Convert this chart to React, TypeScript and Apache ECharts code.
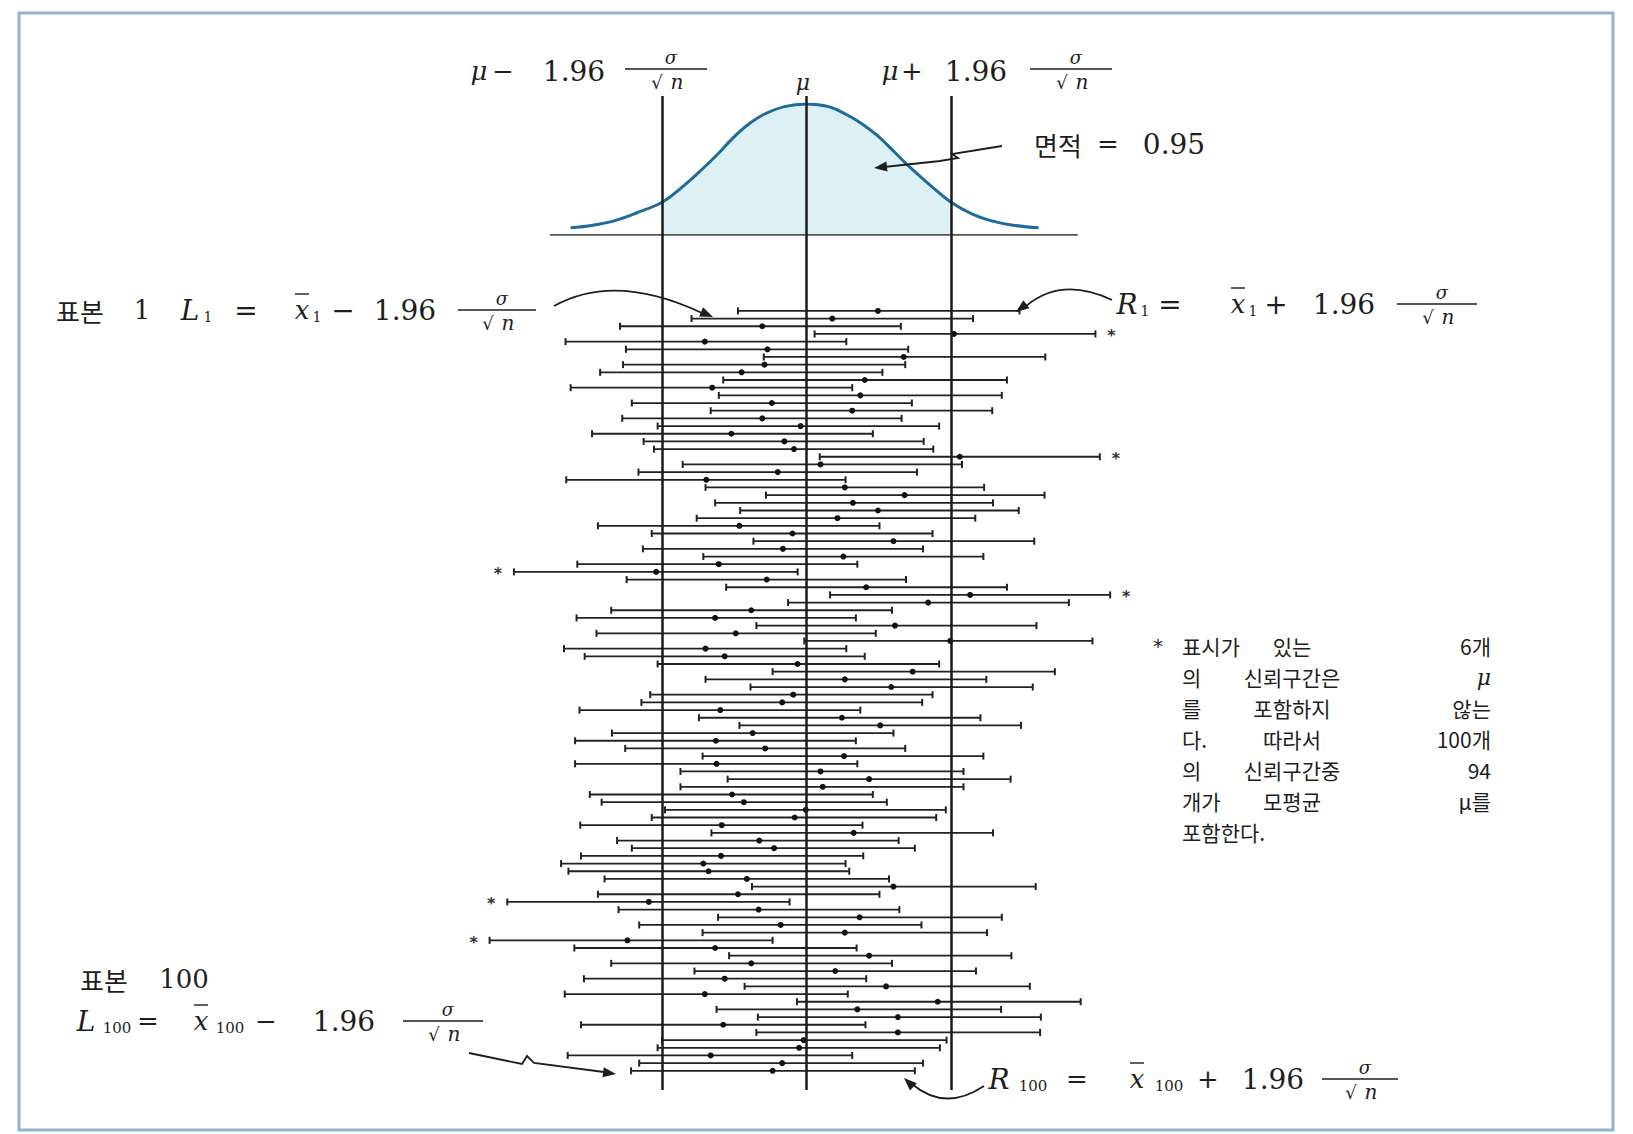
import React, { useEffect, useRef } from "react";
import * as echarts from "echarts";

// Interval data in units of sigma/sqrt(n), mu = 0 (sample 1 at top ... sample 100 at bottom)
const LOWER = [
  -0.93, -1.56, -2.53, 0.11, -3.27, -2.45, -0.58, -2.49, -2.8, -1.13,
  -3.2, -1.19, -2.37, -1.3, -2.5, -2.02, -2.91, -2.21, -2.07, 0.18,
  -1.68, -2.28, -3.26, -1.37, -0.55, -1.24, -0.9, -1.49, -2.83, -2.1,
  -0.72, -2.22, -1.4, -3.11, -3.97, -2.44, -1.09, 0.32, -0.25, -2.65,
  -3.12, -0.68, -2.85, -0.03, -3.29, -3.01, -2.02, -0.46, -1.37, -0.76,
  -2.12, -2.24, -3.08, -1.46, -0.91, -2.64, -3.14, -2.46, -1.41, -3.14,
  -1.71, -1.07, -1.71, -2.94, -2.78, -1.92, -2.1, -3.07, -1.29, -2.57,
  -2.37, -3.06, -3.33, -3.23, -2.74, -0.74, -2.83, -4.06, -2.55, -1.2,
  -2.27, -1.41, -4.3, -3.15, -1.05, -2.65, -1.52, -3.02, -0.84, -3.28,
  -0.13, -1.22, -0.66, -3.06, -0.68, -1.96, -2.02, -3.24, -2.27, -2.38,
];
const MEAN = [
  0.97, 0.35, -0.6, 2.0, -1.38, -0.53, 1.32, -0.57, -0.88, 0.79,
  -1.28, 0.73, -0.47, 0.62, -0.6, -0.08, -1.02, -0.3, -0.17, 2.08,
  0.19, -0.39, -1.36, 0.52, 1.33, 0.63, 0.97, 0.42, -0.91, -0.19,
  1.18, -0.32, 0.5, -1.19, -2.04, -0.54, 0.81, 2.22, 1.65, -0.75,
  -1.24, 1.2, -0.96, 1.95, -1.37, -1.11, -0.12, 1.44, 0.52, 1.15,
  -0.18, -0.33, -1.17, 0.48, 1.0, -0.73, -1.23, -0.56, 0.51, -1.22,
  0.19, 0.85, 0.22, -1.01, -0.85, -0.01, -0.16, -1.15, 0.64, -0.64,
  -0.44, -1.16, -1.4, -1.33, -0.81, 1.18, -0.93, -2.14, -0.65, 0.72,
  -0.35, 0.52, -2.43, -1.24, 0.85, -0.75, 0.39, -1.11, 1.08, -1.38,
  1.78, 0.69, 1.24, -1.13, 1.24, -0.04, -0.1, -1.3, -0.33, -0.46,
];
const UPPER = [
  2.89, 2.26, 1.28, 3.92, 0.54, 1.38, 3.24, 1.34, 1.03, 2.72,
  0.62, 2.65, 1.43, 2.52, 1.29, 1.8, 0.9, 1.59, 1.72, 3.98,
  2.11, 1.5, 0.53, 2.41, 3.23, 2.53, 2.88, 2.29, 0.99, 1.71,
  3.09, 1.58, 2.4, 0.69, -0.12, 1.35, 2.72, 4.12, 3.56, 1.16,
  0.67, 3.12, 0.94, 3.88, 0.54, 0.79, 1.8, 3.37, 2.44, 3.07,
  1.71, 1.57, 0.73, 2.36, 2.91, 1.18, 0.67, 1.34, 2.4, 0.69,
  2.13, 2.77, 2.13, 0.9, 1.09, 1.89, 1.76, 0.76, 2.53, 1.25,
  1.47, 0.77, 0.53, 0.58, 1.12, 3.11, 0.99, -0.23, 1.26, 2.65,
  1.56, 2.45, -0.46, 0.68, 2.78, 1.16, 2.3, 0.81, 3.03, 0.56,
  3.72, 2.64, 3.18, 0.8, 3.17, 1.9, 1.81, 0.62, 1.58, 1.47,
];
const MISSES = [4, 20, 35, 38, 78, 83];
const LIMITS = [-1.96, 0, 1.96];

// Normal curve (relative height)
const CURVE_X = [-3.2, -2.9, -2.6, -2.3, -1.96, -1.7, -1.42, -1.2, -1.0, -0.8, -0.58, -0.3, 0, 0.3, 0.54, 0.75, 0.96, 1.2, 1.38, 1.7, 1.96, 2.25, 2.5, 2.8, 3.15];
const CURVE_H = [0.055, 0.075, 0.11, 0.17, 0.25, 0.36, 0.5, 0.62, 0.74, 0.84, 0.92, 0.98, 1, 0.98, 0.92, 0.85, 0.76, 0.63, 0.53, 0.37, 0.25, 0.16, 0.11, 0.075, 0.055];
const BASELINE = [-3.48, 3.68];

const NOTE = [
  ["표시가", "있는", "6개"],
  ["의", "신뢰구간은", "μ"],
  ["를", "포함하지", "않는"],
  ["다.", "따라서", "100개"],
  ["의", "신뢰구간중", "94"],
  ["개가", "모평균", "μ를"],
  ["포함한다."],
];

const SERIF = '"DejaVu Serif","Liberation Serif",serif';
const KR = '"Noto Sans CJK KR","Noto Sans CJK SC",sans-serif';
const INK = "#1e1e1e";

function T(x: number, y: number, text: string, size: number, o: any = {}) {
  const align = o.align || "center";
  return {
    type: "text",
    x,
    y,
    z: 50,
    style: {
      text,
      font: `${o.italic ? "italic " : ""}${size}px ${o.family || SERIF}`,
      fill: o.color || INK,
      textAlign: align,
      align,
      textVerticalAlign: "middle",
      verticalAlign: "middle",
      lineHeight: o.lh || size,
    },
  };
}
function L(x1: number, y1: number, x2: number, y2: number, w = 1.5) {
  return { type: "line", z: 50, shape: { x1, y1, x2, y2 }, style: { stroke: INK, lineWidth: w } };
}
function frac(cx: number, y: number, w: number) {
  return [
    T(cx + 5, y - 12, "σ", 18, { italic: true }),
    L(cx - w / 2, y, cx + w / 2, y, 1.6),
    T(cx - 9, y + 13, "√", 18),
    T(cx + 11, y + 13, "n", 20, { italic: true }),
  ];
}
function xbar(cx: number, y: number) {
  return [T(cx, y, "x", 26, { italic: true }), L(cx - 7, y - 16, cx + 7, y - 16, 1.4)];
}
function arrowHead(tx: number, ty: number, fx: number, fy: number, len = 13, half = 5) {
  const dx = tx - fx, dy = ty - fy, d = Math.hypot(dx, dy);
  const ux = dx / d, uy = dy / d;
  const bx = tx - ux * len, by = ty - uy * len;
  return {
    type: "polygon",
    z: 50,
    shape: { points: [[tx, ty], [bx - uy * half, by + ux * half], [bx + uy * half, by - ux * half]] },
    style: { fill: INK },
  };
}

function buildGraphic() {
  const g: any[] = [];
  // frame
  g.push({ type: "rect", z: 0, shape: { x: 19, y: 13, width: 1594, height: 1117 }, style: { fill: "#ffffff", stroke: "#8fb6cc", lineWidth: 3 } });

  // top labels
  g.push(T(479, 71, "μ", 26, { italic: true }), T(503, 71, "−", 26), T(574, 71, "1.96", 28), ...frac(666, 69, 82));
  g.push(T(803, 82, "μ", 22, { italic: true }));
  g.push(T(890, 71, "μ", 26, { italic: true }), T(912, 71, "+", 26), T(976, 71, "1.96", 28), ...frac(1071, 69, 82));

  // area label
  g.push(T(1058, 144, "면적", 26, { family: KR }), T(1108, 144, "=", 26), T(1174, 144, "0.95", 28));
  g.push({
    type: "polyline",
    z: 50,
    shape: { points: [[1002, 146], [952, 154], [958, 158], [940, 161], [884, 167]] },
    style: { stroke: INK, lineWidth: 1.8, fill: null },
  });
  g.push(arrowHead(874, 168, 900, 165));

  // sample 1 left
  g.push(T(80, 310, "표본", 26, { family: KR }), T(142, 310, "1", 26));
  g.push(T(190, 310, "L", 28, { italic: true }), T(208, 317, "1", 14), T(246, 310, "=", 28));
  g.push(...xbar(302, 310), T(317, 317, "1", 14), T(343, 310, "−", 28), T(405, 310, "1.96", 28), ...frac(497, 310, 78));
  g.push({ type: "bezierCurve", z: 50, shape: { x1: 554, y1: 306, cpx1: 615, cpy1: 272, x2: 702, y2: 313 }, style: { stroke: INK, lineWidth: 1.8, fill: null } });
  g.push(arrowHead(713, 317, 660, 294));

  // sample 1 right
  g.push(T(1127, 304, "R", 28, { italic: true }), T(1145, 311, "1", 14), T(1170, 304, "=", 28));
  g.push(...xbar(1238, 304), T(1253, 311, "1", 14), T(1276, 304, "+", 28), T(1344, 304, "1.96", 28), ...frac(1437, 304, 80));
  g.push({ type: "bezierCurve", z: 50, shape: { x1: 1112, y1: 300, cpx1: 1062, cpy1: 276, x2: 1026, y2: 306 }, style: { stroke: INK, lineWidth: 1.8, fill: null } });
  g.push(arrowHead(1016, 312, 1045, 290));

  // sample 100 left
  g.push(T(104, 979, "표본", 26, { family: KR }), T(184, 979, "100", 26));
  g.push(T(86, 1021, "L", 28, { italic: true }), T(117, 1028, "100", 15), T(148, 1021, "=", 26));
  g.push(...xbar(201, 1021), T(230, 1028, "100", 15), T(266, 1021, "−", 26), T(344, 1021, "1.96", 28), ...frac(443, 1021, 80));
  g.push({
    type: "polyline",
    z: 50,
    shape: { points: [[469, 1053], [522, 1064], [527, 1056], [534, 1063], [604, 1072]] },
    style: { stroke: INK, lineWidth: 1.8, fill: null },
  });
  g.push(arrowHead(616, 1074, 570, 1068));

  // sample 100 right
  g.push(T(999, 1079, "R", 28, { italic: true }), T(1033, 1086, "100", 15), T(1077, 1079, "=", 26));
  g.push(...xbar(1137, 1079), T(1169, 1086, "100", 15), T(1208, 1079, "+", 26), T(1273, 1079, "1.96", 28), ...frac(1360, 1079, 76));
  g.push({ type: "bezierCurve", z: 50, shape: { x1: 984, y1: 1086, cpx1: 945, cpy1: 1112, x2: 912, y2: 1084 }, style: { stroke: INK, lineWidth: 1.8, fill: null } });
  g.push(arrowHead(904, 1078, 925, 1098));

  // note block
  const left = 1182, right = 1491, mid = 1292;
  const ys = [646, 677, 708, 739, 770, 801, 832];
  g.push(T(1158, 646, "*", 20, { family: '"DejaVu Sans",sans-serif' }));
  NOTE.forEach((words, i) => {
    const y = ys[i];
    const o = { family: KR, lh: 21 };
    g.push(T(left, y, words[0], 21, { ...o, align: "left" }));
    if (words.length === 1) return;
    g.push(T(mid, y, words[1], 21, { ...o, align: "center" }));
    const last = words[2];
    if (last === "μ") g.push(T(right, y, last, 22, { italic: true, align: "right", lh: 22 }));
    else g.push(T(right, y, last, 21, { ...o, align: "right" }));
  });
  return g;
}

export default function App() {
  const ref = useRef<HTMLDivElement>(null);
  useEffect(() => {
    if (!ref.current) return;
    const chart = echarts.init(ref.current, null, { renderer: "svg" });
    const curve = CURVE_X.map((x, i) => [x, CURVE_H[i]]);
    const shaded = curve.filter((p) => p[0] >= LIMITS[0] && p[0] <= LIMITS[2]);
    const rows = LOWER.map((lo, i) => [i + 1, lo, MEAN[i], UPPER[i], MISSES.includes(i + 1) ? 1 : 0]);

    const option: any = {
      animation: false,
      backgroundColor: "#ffffff",
      grid: [
        { left: 438, width: 737, top: 104, height: 131 },
        { left: 438, width: 737, top: 96, height: 994 },
      ],
      xAxis: [
        { gridIndex: 0, type: "value", min: -5, max: 5, show: false },
        { gridIndex: 1, type: "value", min: -5, max: 5, show: false },
      ],
      yAxis: [
        { gridIndex: 0, type: "value", min: 0, max: 1, show: false },
        { gridIndex: 1, type: "value", min: -27, max: 102.5, inverse: true, show: false },
      ],
      series: [
        {
          type: "line", xAxisIndex: 0, yAxisIndex: 0, data: shaded, smooth: 0.4, symbol: "none",
          lineStyle: { width: 0 }, areaStyle: { color: "#dcf0f6", opacity: 1 }, z: 1, silent: true,
        },
        {
          type: "line", xAxisIndex: 0, yAxisIndex: 0, data: curve, smooth: 0.4, symbol: "none",
          lineStyle: { color: "#1f6b99", width: 3 }, z: 3, silent: true,
        },
        {
          type: "line", xAxisIndex: 0, yAxisIndex: 0, data: BASELINE.map((x) => [x, 0]), symbol: "none",
          lineStyle: { color: INK, width: 1.5 }, z: 3, silent: true,
        },
        {
          type: "custom", xAxisIndex: 1, yAxisIndex: 1, data: rows, z: 4, silent: true,
          encode: { x: [1, 2, 3], y: 0 },
          renderItem: (params: any, api: any) => {
            const row = api.value(0);
            const a = api.coord([api.value(1), row]);
            const m = api.coord([api.value(2), row]);
            const b = api.coord([api.value(3), row]);
            const miss = api.value(4) === 1;
            const stroke = "#222";
            const children: any[] = [
              { type: "line", shape: { x1: a[0], y1: a[1], x2: b[0], y2: b[1] }, style: { stroke, lineWidth: 1.8 } },
              { type: "line", shape: { x1: a[0], y1: a[1] - 3.5, x2: a[0], y2: a[1] + 3.5 }, style: { stroke, lineWidth: 2 } },
              { type: "line", shape: { x1: b[0], y1: b[1] - 3.5, x2: b[0], y2: b[1] + 3.5 }, style: { stroke, lineWidth: 2 } },
              { type: "circle", shape: { cx: m[0], cy: m[1], r: 3 }, style: { fill: "#111" } },
            ];
            if (miss) {
              const right = api.value(2) > 0;
              children.push({
                type: "text",
                x: right ? b[0] + 16 : a[0] - 16,
                y: a[1] + 2,
                style: {
                  text: "*", font: 'bold 16px "DejaVu Sans",sans-serif', fill: "#333",
                  textAlign: "center", align: "center", textVerticalAlign: "middle", verticalAlign: "middle",
                },
              });
            }
            return { type: "group", children };
          },
          markLine: {
            silent: true,
            symbol: ["none", "none"],
            label: { show: false },
            lineStyle: { color: "#1a1a1a", width: 2.5, type: "solid" },
            data: LIMITS.map((v) => ({ xAxis: v })),
          },
        },
      ],
      graphic: buildGraphic(),
    };
    chart.setOption(option);
    return () => chart.dispose();
  }, []);
  return <div ref={ref} style={{ position: "fixed", left: 0, top: 0, width: 1633, height: 1134 }} />;
}
